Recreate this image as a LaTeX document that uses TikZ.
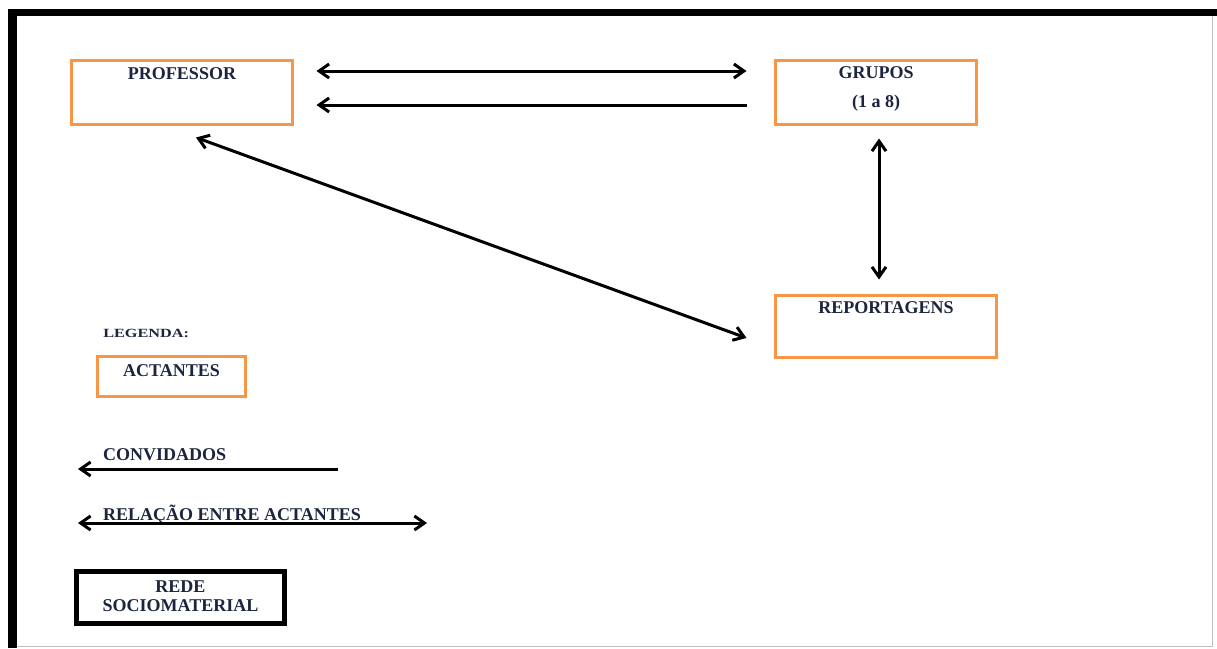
\documentclass[tikz,border=0pt]{standalone}
\usepackage{fontspec}
\setmainfont{Liberation Serif}
\usetikzlibrary{arrows.meta,calc}
\definecolor{boxorange}{RGB}{247,150,70}
\definecolor{navy}{RGB}{28,36,62}
\tikzset{
  actant/.style={draw=boxorange, line width=3pt, outer sep=0pt, inner sep=0pt},
  lbl/.style={font=\fontsize{18}{29}\selectfont\bfseries, text=navy, inner sep=0pt, align=center},
  tip/.style={Straight Barb[length=10pt,width=14pt,line width=3pt]},
  arr/.style={line width=3pt, -{Straight Barb[length=10pt,width=14pt,line width=3pt]}},
  darr/.style={line width=3pt, {Straight Barb[length=10pt,width=14pt,line width=3pt]}-{Straight Barb[length=10pt,width=14pt,line width=3pt]}},
}
\begin{document}
\begin{tikzpicture}[x=1pt,y=-1pt]
\useasboundingbox (0,0) rectangle (1217,648);
\fill[white] (0,0) rectangle (1217,648);
% outer frame
\draw[line width=7pt] (8.5,12.5) -- (1217,12.5);
\draw[line width=9pt] (12.5,9) -- (12.5,648);
\draw[gray!50, line width=0.8pt] (1212,16) -- (1212,646) -- (17,646);
% actants
\node[actant, minimum width=221pt, minimum height=64pt] (prof) at (182,92.5) {};
\node[lbl, anchor=north] (proft) at ([yshift=-7pt]prof.north) {PROFESSOR};
\node[actant, minimum width=201pt, minimum height=64pt] (grp) at (876,92.5) {};
\node[lbl, anchor=north] (grpt) at ([yshift=-6pt]grp.north) {GRUPOS\\[0pt](1 a 8)};
\node[actant, minimum width=221pt, minimum height=62pt] (rep) at (886,326.5) {};
\node[lbl, anchor=north] (rept) at ([yshift=-5.5pt]rep.north) {REPORTAGENS};
% connectors
\draw[darr, shorten <=24pt, shorten >=29pt] ([yshift=21.5pt]prof.east) -- ([yshift=21.5pt]grp.west);
\draw[arr, shorten <=29pt, shorten >=24pt] ([yshift=-12.5pt]grp.west) -- ([yshift=-12.5pt]prof.east);
\draw[darr] ([shift={(14pt,-13pt)}]prof.south) -- ([shift={(-29pt,-11.5pt)}]rep.west);
\draw[darr, shorten <=14pt, shorten >=16pt] ([xshift=3pt]grp.south) -- ([xshift=3pt]grp.south |- rep.north);
% legend
\node[font=\fontsize{12.5}{14}\selectfont\bfseries, text=navy, inner sep=0pt, anchor=west, xscale=1.3] (leg) at (103,333) {LEGENDA:};
\node[actant, minimum width=148pt, minimum height=40pt] (act) at (171.5,376.5) {};
\node[lbl, anchor=north] (actt) at ([yshift=-8pt]act.north) {ACTANTES};
\node[lbl, anchor=west] (conv) at (103,455) {CONVIDADOS};
\coordinate (c1) at (338,469);
\coordinate (c2) at (78,469);
\draw[arr] (c1) -- (c2);
\node[lbl, anchor=west] (rel) at (103,515) {RELAÇÃO ENTRE ACTANTES};
\coordinate (r1) at (78,523);
\coordinate (r2) at (427,523);
\draw[darr] (r1) -- (r2);
\node[draw=black, line width=5pt, minimum width=208pt, minimum height=52pt, inner sep=0pt, outer sep=0pt] (rede) at (180.5,597.5) {};
\node[lbl, font=\fontsize{18}{19}\selectfont\bfseries] (redet) at ([yshift=1.5pt]rede.center) {REDE\\SOCIOMATERIAL};
\end{tikzpicture}
\end{document}
